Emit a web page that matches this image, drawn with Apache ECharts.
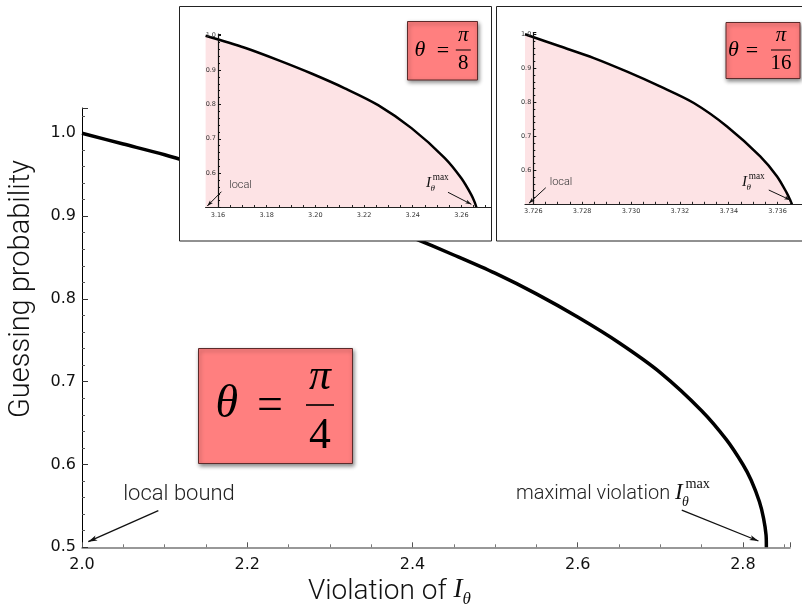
<!DOCTYPE html>
<html>
<head>
<meta charset="utf-8">
<script src="https://cdn.jsdelivr.net/npm/echarts@6/dist/echarts.min.js"></script>
<style>
html,body{margin:0;padding:0;background:#fff;}
#chart{width:802px;height:608px;}
</style>
</head>
<body>
<div id="chart"></div>
<script>
// ---- main plot (theta = pi/4) ----
const mainX = [2.0, 2.05, 2.1, 2.15, 2.2, 2.25, 2.3, 2.35, 2.4, 2.45, 2.5, 2.55, 2.6, 2.65, 2.7, 2.75, 2.78, 2.8, 2.81, 2.82, 2.825, 2.828, 2.8284];
const mainY = [1.0, 0.987, 0.974, 0.959, 0.944, 0.928, 0.912, 0.894, 0.874, 0.853, 0.831, 0.806, 0.778, 0.747, 0.711, 0.665, 0.630, 0.600, 0.581, 0.555, 0.535, 0.515, 0.5];
// ---- inset theta = pi/8 ----
const inset1X = [3.1549, 3.171, 3.1847, 3.1984, 3.2121, 3.2258, 3.2395, 3.2532, 3.2600, 3.2641, 3.2655, 3.2662];
const inset1Y = [1.0, 0.965, 0.929, 0.890, 0.847, 0.798, 0.731, 0.644, 0.585, 0.537, 0.515, 0.5];
// ---- inset theta = pi/16 ----
const inset2X = [3.72566, 3.72712, 3.72848, 3.72984, 3.73121, 3.73257, 3.73393, 3.73529, 3.73598, 3.73638, 3.73652, 3.73659];
const inset2Y = [1.0, 0.964, 0.930, 0.890, 0.846, 0.798, 0.729, 0.641, 0.582, 0.533, 0.512, 0.5];
// ---- tick labels ----
const inset1XLabels = [3.16, 3.18, 3.20, 3.22, 3.24, 3.26];
const inset2XLabels = [3.726, 3.728, 3.730, 3.732, 3.734, 3.736];

const zip = (xs, ys) => xs.map((x, i) => [x, ys[i]]);
function minorList(lo, hi, step) {
  const out = [];
  for (let v = lo; v <= hi + 1e-12; v += step) out.push(+v.toFixed(6));
  return out;
}
const inset1XTicks = minorList(3.16, 3.27, 0.005);
const inset2XTicks = minorList(3.726, 3.737, 0.0005);

const chart = echarts.init(document.getElementById('chart'), null, {renderer: 'canvas'});

const sans = 'Roboto';
const serif = 'Liberation Serif';
const tickFont = 'DejaVu Sans';

const measureCtx = document.createElement('canvas').getContext('2d');
function textW(text, font) { measureCtx.font = font; return measureCtx.measureText(text).width; }

function insetYAxis(gridIndex, offset) {
  return {
    type: 'value', gridIndex: gridIndex, min: 0.5, max: 1.005, interval: 0.1,
    offset: offset, z: 11,
    axisLine: {show: true, lineStyle: {color: '#111', width: 1.2}},
    axisTick: {show: true, inside: true, length: 3, lineStyle: {color: '#111'}},
    minorTick: {show: true, splitNumber: 5, length: 2, lineStyle: {color: '#111'}},
    splitLine: {show: false},
    axisLabel: {show: true, showMinLabel: false, showMaxLabel: false, margin: 2,
      fontSize: 6.5, fontFamily: tickFont, color: '#333', formatter: v => v.toFixed(1)}
  };
}
function insetXAxis(gridIndex, min, max, labels, ticks, digits) {
  return {
    type: 'value', gridIndex: gridIndex, min: min, max: max, z: 11,
    axisLine: {show: true, onZero: false, lineStyle: {color: '#222', width: 1.2}},
    axisTick: {show: true, inside: true, length: 2.5, customValues: ticks, lineStyle: {color: '#222'}},
    splitLine: {show: false},
    axisLabel: {show: true, customValues: labels, margin: 4, fontSize: 6.5,
      fontFamily: tickFont, color: '#333', formatter: v => v.toFixed(digits)}
  };
}

function thetaBox(x, y, w, h, den, fs, thx, eqx, fx, fw, cy, piDy, denDy, z) {
  return [
    {type: 'rect', z: z, shape: {x: x, y: y, width: w, height: h},
      style: {fill: '#ff7f7f', stroke: '#5b2b2b', lineWidth: 1,
        shadowBlur: 4, shadowColor: 'rgba(0,0,0,0.45)', shadowOffsetX: 1, shadowOffsetY: 2}},
    {type: 'text', z: z + 1, x: thx, y: cy, style: {text: 'θ', font: 'italic ' + fs + 'px "' + serif + '"', fill: '#000', align: 'center', verticalAlign: 'middle'}},
    {type: 'text', z: z + 1, x: eqx, y: cy + fs * 0.04, style: {text: '=', font: fs + 'px "' + serif + '"', fill: '#000', align: 'center', verticalAlign: 'middle'}},
    {type: 'text', z: z + 1, x: fx, y: cy - piDy, style: {text: 'π', font: 'italic ' + (fs * 0.95) + 'px "' + serif + '"', fill: '#000', align: 'center', verticalAlign: 'middle'}},
    {type: 'line', z: z + 1, shape: {x1: fx - fw / 2, y1: cy, x2: fx + fw / 2, y2: cy}, style: {stroke: '#000', lineWidth: Math.max(1, fs / 28)}},
    {type: 'text', z: z + 1, x: fx, y: cy + denDy, style: {text: den, font: (fs * 0.95) + 'px "' + serif + '"', fill: '#000', align: 'center', verticalAlign: 'middle'}}
  ];
}

function iMax(x, y, fs, z) {
  return [
    {type: 'text', z: z, x: x, y: y, style: {text: 'I', font: 'italic ' + fs + 'px "' + serif + '"', fill: '#111', align: 'left', verticalAlign: 'middle'}},
    {type: 'text', z: z, x: x + fs * 0.3, y: y + fs * 0.4, style: {text: 'θ', font: 'italic ' + (fs * 0.6) + 'px "' + serif + '"', fill: '#111', align: 'left', verticalAlign: 'middle'}},
    {type: 'text', z: z, x: x + fs * 0.45, y: y - fs * 0.38, style: {text: 'max', font: (fs * 0.62) + 'px "' + serif + '"', fill: '#111', align: 'left', verticalAlign: 'middle'}}
  ];
}

const titleFont = '300 28px "' + sans + '"';
const violW = textW('Violation of ', titleFont);
const annFont = '300 20px "' + sans + '"';
const maxW = textW('maximal violation ', annFont);

const arrowStyle = {color: '#111', width: 1.3, type: 'solid'};

const option = {
  animation: false,
  backgroundColor: '#fff',
  grid: [
    {left: 82, top: 108, width: 708, height: 439.3},
    {left: 205.6, top: 34, width: 285.7, height: 173.5, z: 10},
    {left: 525, top: 32.6, width: 277, height: 171.7, z: 10}
  ],
  xAxis: [
    {
      type: 'value', gridIndex: 0, min: 2.0, max: 2.857, interval: 0.2,
      axisLine: {show: true, onZero: false, lineStyle: {color: '#777', width: 1.5}},
      axisTick: {show: true, inside: true, length: 5, lineStyle: {color: '#555'}},
      minorTick: {show: true, splitNumber: 4, length: 3, lineStyle: {color: '#777'}},
      splitLine: {show: false},
      axisLabel: {show: true, showMaxLabel: false, margin: 10, fontSize: 16, fontFamily: tickFont,
        color: '#111', formatter: v => v.toFixed(1)}
    },
    insetXAxis(1, 3.1549, 3.2723, inset1XLabels, inset1XTicks, 2),
    insetXAxis(2, 3.72566, 3.737, inset2XLabels, inset2XTicks, 3)
  ],
  yAxis: [
    {
      type: 'value', gridIndex: 0, min: 0.5, max: 1.0305, interval: 0.1,
      axisLine: {show: true, onZero: false, lineStyle: {color: '#000', width: 1}},
      axisTick: {show: true, inside: true, length: 6, lineStyle: {color: '#333'}},
      minorTick: {show: true, splitNumber: 5, length: 3, lineStyle: {color: '#555'}},
      splitLine: {show: false},
      axisLabel: {show: true, showMaxLabel: false, margin: 6, fontSize: 16, fontFamily: tickFont,
        color: '#111', formatter: v => v.toFixed(1)}
    },
    insetYAxis(1, -12.4),
    insetYAxis(2, -8.3)
  ],
  series: [
    {
      type: 'line', xAxisIndex: 0, yAxisIndex: 0, z: 1,
      data: zip(mainX, mainY), showSymbol: false, smooth: 0.3,
      lineStyle: {color: '#000', width: 3.5},
      markLine: {
        silent: true, z: 3, symbol: ['none', 'arrow'], symbolSize: [4, 9],
        lineStyle: arrowStyle, label: {show: false},
        data: [
          [{coord: [2.0924, 0.5442]}, {coord: [2.0076, 0.5068]}],
          [{coord: [2.726, 0.545]}, {coord: [2.8188, 0.5076]}]
        ]
      }
    },
    {
      type: 'line', xAxisIndex: 1, yAxisIndex: 1, z: 10,
      data: zip(inset1X, inset1Y), showSymbol: false, smooth: 0.3,
      lineStyle: {color: '#000', width: 2.5},
      areaStyle: {color: '#fde3e5', opacity: 1, origin: 'start'},
      markLine: {
        silent: true, z: 12, symbol: ['none', 'arrow'], symbolSize: [3, 6],
        lineStyle: {color: '#111', width: 1, type: 'solid'}, label: {show: false},
        data: [
          [{coord: [3.1614, 0.546]}, {coord: [3.1556, 0.5044]}],
          [{coord: [3.2545, 0.5443]}, {coord: [3.2641, 0.5093]}]
        ]
      }
    },
    {
      type: 'line', xAxisIndex: 2, yAxisIndex: 2, z: 10,
      data: zip(inset2X, inset2Y), showSymbol: false, smooth: 0.3,
      lineStyle: {color: '#000', width: 2.5},
      areaStyle: {color: '#fde3e5', opacity: 1, origin: 'start'},
      markLine: {
        silent: true, z: 12, symbol: ['none', 'arrow'], symbolSize: [3, 6],
        lineStyle: {color: '#111', width: 1, type: 'solid'}, label: {show: false},
        data: [
          [{coord: [3.72651, 0.5488]}, {coord: [3.72582, 0.5029]}],
          [{coord: [3.73564, 0.542]}, {coord: [3.73652, 0.5126]}]
        ]
      }
    }
  ],
  graphic: [].concat(
    [
      {type: 'rect', z: 5, shape: {x: 179.5, y: 6.5, width: 312, height: 234.5},
        style: {fill: '#fff', stroke: '#222', lineWidth: 1}},
      {type: 'rect', z: 5, shape: {x: 496.5, y: 6.5, width: 320, height: 234.5},
        style: {fill: '#fff', stroke: '#222', lineWidth: 1}},
      {type: 'text', z: 2, x: 22, y: 289, rotation: Math.PI / 2,
        style: {text: 'Guessing probability', font: '300 29px "' + sans + '"', fill: '#111', align: 'center', verticalAlign: 'middle'}},
      {type: 'text', z: 2, x: 308, y: 592,
        style: {text: 'Violation of', font: titleFont, fill: '#111', align: 'left', verticalAlign: 'middle'}},
      {type: 'text', z: 2, x: 308 + violW, y: 590,
        style: {text: 'I', font: 'italic 27px "' + serif + '"', fill: '#111', align: 'left', verticalAlign: 'middle'}},
      {type: 'text', z: 2, x: 308 + violW + 9, y: 600,
        style: {text: 'θ', font: 'italic 17px "' + serif + '"', fill: '#111', align: 'left', verticalAlign: 'middle'}},
      {type: 'text', z: 2, x: 179, y: 494,
        style: {text: 'local bound', font: '300 22px "' + sans + '"', fill: '#222', align: 'center', verticalAlign: 'middle'}},
      {type: 'text', z: 2, x: 516, y: 494,
        style: {text: 'maximal violation', font: annFont, fill: '#222', align: 'left', verticalAlign: 'middle'}},
      {type: 'text', z: 12, x: 240.5, y: 185,
        style: {text: 'local', font: '300 11px "' + sans + '"', fill: '#333', align: 'center', verticalAlign: 'middle'}},
      {type: 'text', z: 12, x: 561, y: 182,
        style: {text: 'local', font: '300 11px "' + sans + '"', fill: '#333', align: 'center', verticalAlign: 'middle'}}
    ],
    iMax(516 + maxW, 493, 23, 2),
    iMax(426, 183, 15, 12),
    iMax(742, 182, 15, 12),
    thetaBox(198.5, 348.5, 154, 115, '4', 46, 226.7, 270, 320, 28, 405, 27, 32, 20),
    thetaBox(407.5, 21.5, 70, 58.5, '8', 22, 420, 443, 463.3, 15, 50, 14, 14, 20),
    thetaBox(726, 22.5, 74, 56, '16', 22, 733.5, 752, 781, 20, 50, 14, 14, 20)
  )
};
chart.setOption(option);
</script>
</body>
</html>
